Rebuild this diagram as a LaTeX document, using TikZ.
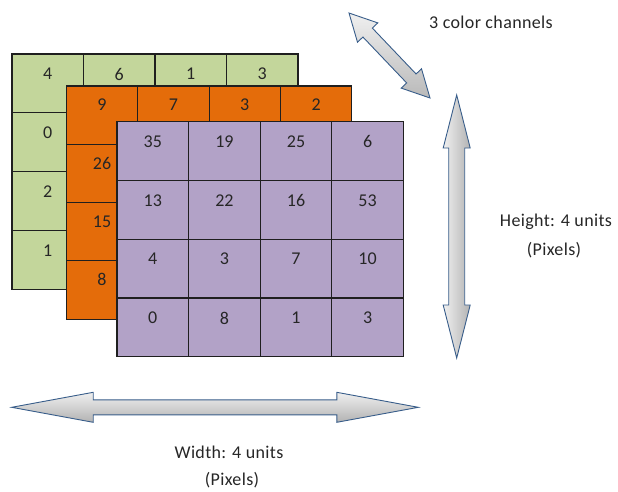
\documentclass[tikz,border=0pt]{standalone}
\usepackage{fontspec}
\setmainfont{Carlito}
\newfontfamily\capfont[LetterSpace=2]{Carlito}
\usetikzlibrary{calc}
\definecolor{gridgreen}{HTML}{C3D69B}
\definecolor{gridorange}{HTML}{E46C0A}
\definecolor{gridpurple}{HTML}{B2A2C7}
\definecolor{arrowline}{HTML}{385D8A}
\definecolor{inkgrey}{HTML}{262626}

% double-headed block arrow between two tip coordinates
% #1 extra options, #2/#3 tips, #4 head length, #5 head half-width, #6 shaft half-width
\newcommand\dblarrow[6][]{%
  \coordinate (#2-base) at ($(#2)!#4!(#3)$);
  \coordinate (#3-base) at ($(#3)!#4!(#2)$);
  \path[fatarrow,#1] (#2)
    -- ($(#2-base)!#5!90:(#3)$) -- ($(#2-base)!#6!90:(#3)$)
    -- ($(#3-base)!#6!-90:(#2)$) -- ($(#3-base)!#5!-90:(#2)$)
    -- (#3)
    -- ($(#3-base)!#5!90:(#2)$) -- ($(#3-base)!#6!90:(#2)$)
    -- ($(#2-base)!#6!-90:(#3)$) -- ($(#2-base)!#5!-90:(#3)$) -- cycle;
}

% 4x4 channel grid: #1 fill, #2/#3 top-left corner, #4 cell width, #5 cell height
\newcommand\channelgrid[5]{%
  \filldraw[cellbox, fill=#1] (#2,#3) rectangle ++(4*#4,4*#5);
  \foreach \k in {1,2,3} {
    \draw[cellbox] (#2+\k*#4,#3) -- ++(0,4*#5);
    \draw[cellbox] (#2,#3+\k*#5) -- ++(4*#4,0);
  }
}

\begin{document}
\begin{tikzpicture}[x=1pt,y=-1pt,
  font=\fontsize{18}{21}\selectfont,
  cellbox/.style={draw=black!88, line width=1.1pt},
  val/.style={text=inkgrey, inner sep=0pt},
  fatarrow/.style={draw=arrowline, line width=0.9pt, line join=miter},
  caption/.style={text=inkgrey, inner sep=0pt, font=\capfont\fontsize{18}{21}\selectfont}]
\useasboundingbox (0,0) rectangle (618,491);

% back channel (green)
\channelgrid{gridgreen}{12}{54}{71.5}{58.8}
\foreach \v [count=\i from 0] in {4,6,1,3}
  \node[val] (g-top-\i) at (47.75+\i*71.5, 74) {\v};
\foreach \v [count=\j from 1] in {0,2,1}
  \node[val] (g-left-\j) at (47.75, 74+\j*58.8) {\v};

% middle channel (orange)
\channelgrid{gridorange}{66.3}{86}{71.4}{58.3}
\foreach \v [count=\i from 0] in {9,7,3,2}
  \node[val] (o-top-\i) at (102+\i*71.4, 105) {\v};
\foreach \v [count=\j from 1] in {26,15,8}
  \node[val] (o-left-\j) at (102, 105+\j*58.3) {\v};

% front channel (purple)
\channelgrid{gridpurple}{117}{121.7}{71.6}{58.75}
\foreach \row [count=\j from 0] in {{35,19,25,6},{13,22,16,53},{4,3,7,10},{0,8,1,3}}
  \foreach \v [count=\i from 0] in \row
    \node[val] (p-\j-\i) at (152.8+\i*71.6, 141.7+\j*58.75) {\v};

% dimension arrows
\coordinate (dA) at (349,13);   \coordinate (dB) at (430,98);
\coordinate (vA) at (456.7,95); \coordinate (vB) at (456.7,358);
\coordinate (hA) at (11.7,407.3); \coordinate (hB) at (418.3,407.3);
\dblarrow[top color=gray!12, bottom color=gray!55]{dA}{dB}{27pt}{14pt}{6.5pt}
\dblarrow[left color=gray!12, right color=gray!60]{vA}{vB}{53pt}{13.5pt}{8pt}
\dblarrow[top color=gray!12, bottom color=gray!60]{hA}{hB}{81.5pt}{15pt}{7.5pt}

% labels
\node[caption] (lbl-ch) at (491,22) {3 color channels};
\node[caption] (lbl-h1) at (556,222) {Height: 4 units};
\node[caption] (lbl-h2) at (554,250) {(Pixels)};
\node[caption] (lbl-w1) at (229,452) {Width: 4 units};
\node[caption] (lbl-w2) at (232,480) {(Pixels)};
\end{tikzpicture}
\end{document}
